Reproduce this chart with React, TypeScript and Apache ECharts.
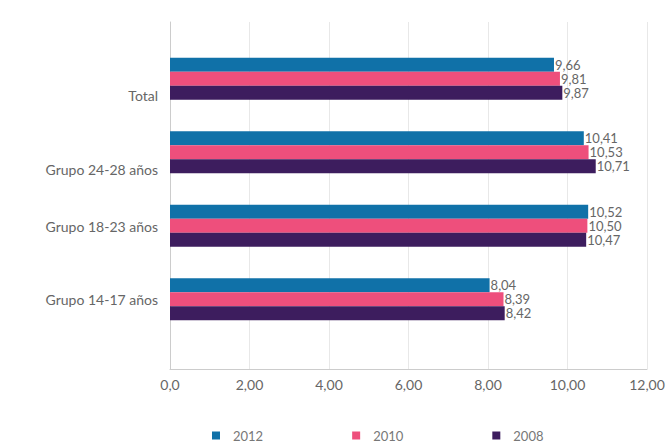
import React, { useEffect, useRef } from "react";
import * as echarts from "echarts";

const categories = ["Total", "Grupo 24-28 años", "Grupo 18-23 años", "Grupo 14-17 años"];
const years = ["2012", "2010", "2008"];
const values2012 = [9.66, 10.41, 10.52, 8.04];
const values2010 = [9.81, 10.53, 10.5, 8.39];
const values2008 = [9.87, 10.71, 10.47, 8.42];
const xTicks = [0, 2, 4, 6, 8, 10, 12];
const labelShift = [17, 17, 1, 0];

const colors: Record<string, string> = { "2012": "#1071a8", "2010": "#ee4f7c", "2008": "#3d1d5e" };

const fmt = (v: number) => v.toFixed(2).replace(".", ",");
const tickFmt = (v: number) => (v === 0 ? "0,0" : v.toFixed(2).replace(".", ","));

export default function App() {
  const ref = useRef<HTMLDivElement>(null);
  useEffect(() => {
    if (!ref.current) return;
    const chart = echarts.init(ref.current, undefined, { renderer: "svg" });
    const font = "Lato, 'Noto Sans', sans-serif";
    const mk = (name: string, data: number[]) => ({
      name,
      type: "bar",
      xAxisIndex: 1,
      yAxisIndex: 1,
      data,
      barWidth: 14,
      barGap: "0%",
      itemStyle: { color: colors[name] },
      label: {
        show: true,
        position: "right",
        distance: 1,
        color: "#666",
        fontSize: 13,
        fontFamily: font,
        formatter: (p: any) => fmt(p.value),
      },
    });
    const rich: Record<string, any> = {};
    labelShift.forEach((s, i) => {
      rich["s" + i] = { color: "#666", fontSize: 14, fontFamily: font, padding: [s * 2, 0, 0, 0] };
    });
    chart.setOption({
      animation: false,
      textStyle: { fontFamily: font },
      legend: {
        data: years,
        top: 424,
        left: 207,
        itemWidth: 8,
        itemHeight: 8,
        itemGap: 89,
        icon: "rect",
        textStyle: { color: "#777", fontSize: 13, fontFamily: font, padding: [0, 0, 0, 8] },
      },
      grid: [
        { left: 170, right: 24, top: 22, bottom: 76 },
        { left: 170, right: 24, top: 42, bottom: 109 },
      ],
      xAxis: [
        {
          type: "value",
          gridIndex: 0,
          min: xTicks[0],
          max: xTicks[xTicks.length - 1],
          interval: 2,
          axisLine: { show: true, lineStyle: { color: "#ccc" } },
          axisTick: { show: false },
          splitLine: { show: true, lineStyle: { color: "#e8e8e8" } },
          axisLabel: { color: "#666", fontSize: 14, margin: 8, formatter: tickFmt },
        },
        {
          type: "value",
          gridIndex: 1,
          min: 0,
          max: 12,
          interval: 2,
          show: false,
        },
      ],
      yAxis: [
        {
          type: "value",
          gridIndex: 0,
          min: 0,
          max: 1,
          axisLine: { show: true, lineStyle: { color: "#ccc" } },
          axisTick: { show: false },
          axisLabel: { show: false },
          splitLine: { show: false },
        },
        {
          type: "category",
          gridIndex: 1,
          inverse: true,
          data: categories,
          axisLine: { show: false },
          axisTick: { show: false },
          axisLabel: {
            color: "#666",
            fontSize: 14,
            margin: 12,
            formatter: (v: string, i: number) => `{s${i}|${v}}`,
            rich,
          },
        },
      ],
      series: [mk("2012", values2012), mk("2010", values2010), mk("2008", values2008)],
    });
    return () => chart.dispose();
  }, []);
  return (
    <div
      ref={ref}
      style={{ position: "absolute", left: 0, top: 0, width: 671, height: 445 }}
    />
  );
}
